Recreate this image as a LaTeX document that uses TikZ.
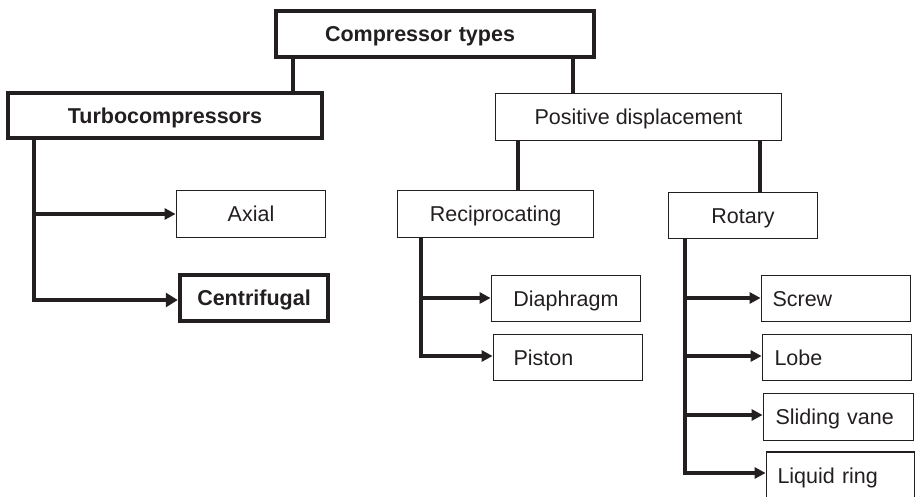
\documentclass[tikz,border=0pt]{standalone}
\usepackage{fontspec}
\setmainfont{Liberation Sans}
\usetikzlibrary{arrows.meta}
\definecolor{ink}{RGB}{35,31,32}
\begin{document}
\begin{tikzpicture}[x=1pt,y=-1pt,
  box/.style={draw=ink, line width=1.8pt, inner sep=0pt, text height=15.3pt, text depth=0pt,
    font=\fontsize{21.5}{25}\selectfont, text=ink},
  thickbox/.style={box, line width=4.5pt, font=\fontsize{21.5}{25}\selectfont\bfseries},
  lbox/.style 2 args={align=left, inner xsep=#1, text width=#2},
  conn/.style={draw=ink, line width=3.2pt},
  thickconn/.style={draw=ink, line width=4.5pt},
  arr/.style={conn, -{Triangle[length=11pt,width=11pt]}},
  thickarr/.style={thickconn, -{Triangle[length=12pt,width=14pt]}}]
\useasboundingbox (0,0) rectangle (916,497);
\clip (0,0) rectangle (916,497);

% boxes
\node[thickbox, minimum width=318pt, minimum height=46pt, lbox={49pt}{220pt}] (ct) at (435,34) {Compressor types};
\node[thickbox, minimum width=314pt, minimum height=45pt] (turbo) at (165,115.5) {Turbocompressors};
\node[box, minimum width=286pt, minimum height=47pt] (pos) at (638.5,117) {Positive displacement};
\node[box, minimum width=149pt, minimum height=47pt] (axial) at (251,214) {Axial};
\node[thickbox, minimum width=148pt, minimum height=46pt] (centri) at (254,298) {Centrifugal};
\node[box, minimum width=196pt, minimum height=47pt] (recip) at (495.5,214) {Reciprocating};
\node[box, minimum width=149pt, minimum height=46pt] (rotary) at (743,215.5) {Rotary};
\node[box, minimum width=149pt, minimum height=46pt] (diaph) at (566,298.5) {Diaphragm};
\node[box, minimum width=149pt, minimum height=46pt, lbox={20pt}{109pt}] (piston) at (568,357.5) {Piston};
\node[box, minimum width=149pt, minimum height=46pt, lbox={11pt}{127pt}] (screw) at (836,298.5) {Screw};
\node[box, minimum width=149pt, minimum height=46pt, lbox={12pt}{125pt}] (lobe) at (837,357.5) {Lobe};
\node[box, minimum width=150pt, minimum height=47pt, lbox={12pt}{126pt}] (sliding) at (838.5,417) {Sliding vane};
\node[box, minimum width=148pt, minimum height=48pt, lbox={11pt}{126pt}] (liquid) at (840.5,476) {Liquid ring};

% column references
\coordinate (xturbo) at (293,0);
\coordinate (xpos) at (573,0);
\coordinate (xrecip) at (518,0);
\coordinate (xrot) at (760,0);

% top-level connectors
\draw[thickconn] (ct.south -| xturbo) -- (turbo.north -| xturbo);
\draw[conn] (ct.south -| xpos) -- (pos.north -| xpos);
\draw[conn] (pos.south -| xrecip) -- (recip.north -| xrecip);
\draw[conn] (pos.south -| xrot) -- (rotary.north -| xrot);

% turbo branch
\coordinate (t0) at (34,0);
\coordinate (ta) at (34,214);
\coordinate (tc) at (34,300);
\draw[thickconn] (turbo.south -| t0) -- ([yshift=2.25pt]tc);
\draw[arr] (ta) -- (ta -| axial.west);
\draw[thickarr] ([xshift=-2.25pt]tc) -- (tc -| centri.west);

% reciprocating branch
\coordinate (r0) at (421,0);
\coordinate (rd) at (421,298);
\coordinate (rp) at (421,356);
\draw[conn] (recip.south -| r0) -- ([yshift=1.6pt]rp);
\draw[arr] (rd) -- (rd -| diaph.west);
\draw[arr] ([xshift=-1.6pt]rp) -- (rp -| piston.west);

% rotary branch
\coordinate (q0) at (685,0);
\coordinate (qs) at (685,298);
\coordinate (ql) at (685,356);
\coordinate (qv) at (685,415);
\coordinate (qr) at (685,473);
\draw[conn] (rotary.south -| q0) -- ([yshift=1.6pt]qr);
\draw[arr] (qs) -- (qs -| screw.west);
\draw[arr] (ql) -- (ql -| lobe.west);
\draw[arr] (qv) -- (qv -| sliding.west);
\draw[arr] ([xshift=-1.6pt]qr) -- (qr -| liquid.west);
\end{tikzpicture}
\end{document}
